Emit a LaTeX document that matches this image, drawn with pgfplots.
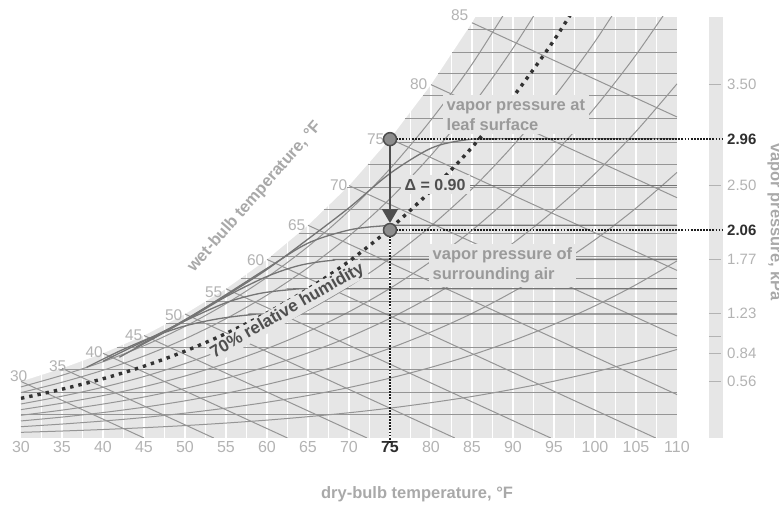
\documentclass[border=0pt]{standalone}
\usepackage{fontspec}
\setmainfont{Liberation Sans}
\usepackage{pgfplots}
\pgfplotsset{compat=1.18}
\usetikzlibrary{arrows.meta}
\definecolor{bggray}{HTML}{E6E6E6}
\definecolor{linegray}{HTML}{959595}
\definecolor{darkline}{HTML}{747474}
\definecolor{tickgray}{HTML}{B3B3B3}
\definecolor{labgray}{HTML}{A9A9A9}
\definecolor{annogray}{HTML}{9A9A9A}
\definecolor{darktxt}{HTML}{2E2E2E}
\definecolor{deltatxt}{HTML}{4F4F4F}
\definecolor{markfill}{HTML}{8C8C8C}
\definecolor{markdraw}{HTML}{4D4D4D}
\definecolor{dotcol}{HTML}{333333}
\pgfplotsset{
  hl/.style={linegray, line width=1pt, forget plot},
  dl/.style={darkline, line width=1.3pt, smooth, forget plot},
  rh/.style={linegray, line width=1pt, smooth, forget plot},
  wb/.style={linegray, line width=1pt, forget plot},
  base/.style={scale only axis, width=656pt, height=421pt, at={(21pt,67pt)}, anchor=south west,
    xmin=30, xmax=110, ymin=0, ymax=4.17},
}
\begin{document}
\begin{tikzpicture}
\useasboundingbox (0pt,0pt) rectangle (779pt,505pt);
\begin{axis}[base,
  axis line style={draw=none}, major tick length=0pt, ytick=\empty,
  xtick={30,35,...,110},
  xticklabels={30,35,40,45,50,55,60,65,70,{\textcolor{darktxt}{\textbf{75}}},80,85,90,95,100,105,110},
  tick label style={font=\fontsize{16}{16}\selectfont, text=tickgray},
  /pgf/number format/assume math mode=true]
\fill[bggray] (axis cs:30,0) rectangle (axis cs:110,4.17);
\pgfplotsinvokeforeach{32.5,35,...,107.5}{\draw[white, line width=1.4pt] (axis cs:#1,0) -- (axis cs:#1,4.17);}
% region above the saturation curve
\addplot[fill=white, draw=none, forget plot] coordinates {(30,0.56)(35,0.69)(40,0.839)(45,1.015)(50,1.228)(55,1.478)(60,1.769)(65,2.107)(70,2.5)(75,2.963)(80,3.5)(85,4.113)(85.4,4.17)(85.4,4.6)(29,4.6)(29,0.56)} -- cycle;
% constant vapor pressure lines
\addplot[hl] coordinates {(30,0.23)(110,0.23)};
\addplot[hl] coordinates {(30,0.455)(110,0.455)};
\addplot[hl] coordinates {(34.7,0.68)(110,0.68)};
\addplot[hl] coordinates {(41.7,0.90)(110,0.90)};
\addplot[hl] coordinates {(47.7,1.13)(110,1.13)};
\addplot[hl] coordinates {(52.5,1.355)(110,1.355)};
\addplot[hl] coordinates {(56.8,1.58)(110,1.58)};
\addplot[hl] coordinates {(60.5,1.80)(110,1.80)};
\addplot[hl] coordinates {(63.9,2.03)(110,2.03)};
\addplot[hl] coordinates {(66.9,2.26)(110,2.26)};
\addplot[hl] coordinates {(69.7,2.48)(110,2.48)};
\addplot[hl] coordinates {(72.3,2.71)(110,2.71)};
\addplot[hl] coordinates {(74.6,2.93)(110,2.93)};
\addplot[hl] coordinates {(76.8,3.16)(110,3.16)};
\addplot[hl] coordinates {(79.0,3.39)(110,3.39)};
\addplot[hl] coordinates {(80.9,3.61)(110,3.61)};
\addplot[hl] coordinates {(82.6,3.82)(110,3.82)};
\addplot[hl] coordinates {(84.5,4.05)(110,4.05)};
% relative humidity curves
\addplot[rh] coordinates {(30,0.056)(35,0.069)(40,0.084)(45,0.102)(50,0.123)(55,0.148)(60,0.177)(65,0.211)(70,0.250)(75,0.296)(80,0.350)(85,0.411)(90,0.483)(95,0.563)(100,0.655)(105,0.759)(110,0.877)};
\addplot[rh] coordinates {(30,0.112)(35,0.138)(40,0.168)(45,0.203)(50,0.246)(55,0.296)(60,0.354)(65,0.421)(70,0.500)(75,0.593)(80,0.700)(85,0.823)(90,0.965)(95,1.126)(100,1.309)(105,1.518)(110,1.754)};
\addplot[rh] coordinates {(30,0.169)(35,0.207)(40,0.252)(45,0.305)(50,0.368)(55,0.443)(60,0.531)(65,0.632)(70,0.750)(75,0.889)(80,1.050)(85,1.234)(90,1.448)(95,1.689)(100,1.964)(105,2.277)(110,2.631)};
\addplot[rh] coordinates {(30,0.225)(35,0.276)(40,0.336)(45,0.406)(50,0.491)(55,0.591)(60,0.708)(65,0.843)(70,1.000)(75,1.185)(80,1.400)(85,1.645)(90,1.930)(95,2.252)(100,2.618)(105,3.036)(110,3.508)};
\addplot[rh] coordinates {(30,0.281)(35,0.345)(40,0.420)(45,0.508)(50,0.614)(55,0.739)(60,0.885)(65,1.054)(70,1.250)(75,1.482)(80,1.750)(85,2.057)(90,2.413)(95,2.815)(100,3.273)(105,3.795)(110,4.385)};
\addplot[rh] coordinates {(30,0.337)(35,0.414)(40,0.503)(45,0.609)(50,0.737)(55,0.887)(60,1.061)(65,1.264)(70,1.500)(75,1.778)(80,2.100)(85,2.468)(90,2.896)(95,3.377)(100,3.927)(105,4.554)};
\addplot[rh] coordinates {(30,0.450)(35,0.552)(40,0.671)(45,0.812)(50,0.982)(55,1.182)(60,1.415)(65,1.686)(70,2.000)(75,2.370)(80,2.800)(85,3.290)(90,3.861)(95,4.503)};
\addplot[rh] coordinates {(30,0.506)(35,0.621)(40,0.755)(45,0.914)(50,1.105)(55,1.330)(60,1.592)(65,1.896)(70,2.250)(75,2.667)(80,3.150)(85,3.702)(90,4.343)};
% wet-bulb lines
\addplot[wb] coordinates {(30,0.56)(45,0)};
\addplot[wb] coordinates {(35,0.69)(53.5,0)};
\addplot[wb] coordinates {(40,0.839)(62.5,0)};
\addplot[wb] coordinates {(45,1.015)(72.2,0)};
\addplot[wb] coordinates {(50,1.228)(82.9,0)};
\addplot[wb] coordinates {(55,1.478)(94.6,0)};
\addplot[wb] coordinates {(60,1.769)(107.4,0)};
\addplot[wb] coordinates {(65,2.107)(110,0.43)};
\addplot[wb] coordinates {(70,2.50)(110,1.01)};
\addplot[wb] coordinates {(75,2.963)(110,1.66)};
\addplot[wb] coordinates {(80,3.50)(110,2.38)};
\addplot[wb] coordinates {(85,4.113)(110,3.18)};
% dew point lines (darker), curving in from the saturation side
\addplot[dl] coordinates {(38,0.70)(42,0.86)(46,1.00)(50,1.11)(54,1.18)(58,1.22)(62,1.228)(110,1.228)};
\addplot[dl] coordinates {(40,0.76)(45,0.96)(50,1.16)(55,1.34)(59,1.43)(63,1.47)(67,1.478)(110,1.478)};
\addplot[dl] coordinates {(42,0.80)(50,1.16)(55,1.40)(60,1.60)(64,1.71)(68,1.76)(72,1.769)(110,1.769)};
\addplot[dl] coordinates {(44,0.90)(50,1.17)(55,1.42)(60,1.68)(65,1.93)(70,2.06)(74,2.10)(78,2.107)(110,2.107)};
\addplot[dl] coordinates {(84,2.50)(110,2.50)};
\addplot[dl] coordinates {(46,0.98)(50,1.17)(55,1.41)(60,1.67)(65,1.97)(70,2.28)(75,2.62)(80,2.87)(84,2.95)(88,2.963)(110,2.963)};
% 70% relative humidity
\addplot[dotcol, line width=3.4pt, dash pattern=on 3.4pt off 5pt, smooth] coordinates {(30,0.393)(35,0.483)(40,0.587)(45,0.711)(50,0.860)(55,1.035)(60,1.238)(65,1.475)(70,1.750)(75,2.074)(80,2.450)(85,2.879)(90,3.378)(95,3.940)(100,4.582)};
\end{axis}
\begin{axis}[base, hide axis, clip=false]
% right scale bar
\fill[bggray] (axis cs:113.9,0) rectangle (axis cs:115.6,4.17);
\pgfplotsinvokeforeach{3.50,2.50,1.77,1.23,1.01,0.84,0.56}{\draw[tickgray, line width=1pt] (axis cs:113.9,#1) -- (axis cs:115.35,#1);}
\pgfplotsinvokeforeach{3.50,2.50,1.77,1.23,0.84,0.56}{\node[anchor=west, inner sep=0pt, text=tickgray, font=\fontsize{15}{15}\selectfont] at (axis cs:116.1,#1) {#1};}
% wet-bulb labels
\node[anchor=east, text=tickgray, inner sep=0pt, font=\fontsize{15.5}{15.5}\selectfont, xshift=6.5pt, yshift=5.4pt] at (axis cs:30,0.56) {30};
\node[anchor=east, text=tickgray, inner sep=0pt, font=\fontsize{15.5}{15.5}\selectfont, xshift=4.5pt, yshift=2pt] at (axis cs:35,0.69) {35};
\node[anchor=east, text=tickgray, inner sep=0pt, font=\fontsize{15.5}{15.5}\selectfont, xshift=0pt, yshift=1pt] at (axis cs:40,0.839) {40};
\node[anchor=east, text=tickgray, inner sep=0pt, font=\fontsize{15.5}{15.5}\selectfont, xshift=-1.5pt] at (axis cs:45,1.015) {45};
\node[anchor=east, text=tickgray, inner sep=0pt, font=\fontsize{15.5}{15.5}\selectfont, xshift=-2.5pt, yshift=-1pt] at (axis cs:50,1.228) {50};
\node[anchor=east, text=tickgray, inner sep=0pt, font=\fontsize{15.5}{15.5}\selectfont, xshift=-3.5pt, yshift=-3pt] at (axis cs:55,1.478) {55};
\node[anchor=east, text=tickgray, inner sep=0pt, font=\fontsize{15.5}{15.5}\selectfont, xshift=-2.5pt, yshift=-1pt] at (axis cs:60,1.769) {60};
\node[anchor=east, text=tickgray, inner sep=0pt, font=\fontsize{15.5}{15.5}\selectfont, xshift=-2.5pt] at (axis cs:65,2.107) {65};
\node[anchor=east, text=tickgray, inner sep=0pt, font=\fontsize{15.5}{15.5}\selectfont, xshift=-1.5pt] at (axis cs:70,2.50) {70};
\node[anchor=east, text=tickgray, inner sep=0pt, font=\fontsize{15.5}{15.5}\selectfont, xshift=-5.5pt] at (axis cs:75,2.963) {75};
\node[anchor=east, text=tickgray, inner sep=0pt, font=\fontsize{15.5}{15.5}\selectfont, xshift=-3.5pt] at (axis cs:80,3.50) {80};
\node[anchor=east, text=tickgray, inner sep=0pt, font=\fontsize{15.5}{15.5}\selectfont, xshift=-3.5pt, yshift=7.6pt] at (axis cs:85,4.113) {85};
% annotations
\node[fill=bggray, inner sep=4pt, text=annogray, align=left, anchor=west, font=\fontsize{16.5}{20}\selectfont\bfseries] at (axis cs:81.4,3.20) {vapor pressure at\\leaf surface};
\node[fill=bggray, inner sep=4pt, text=deltatxt, anchor=center, font=\fontsize{16}{16}\selectfont\bfseries] at (axis cs:80.5,2.51) {Δ = 0.90};
\node[fill=bggray, inner sep=4pt, text=annogray, align=left, anchor=west, font=\fontsize{16.5}{20}\selectfont\bfseries] at (axis cs:79.7,1.71) {vapor pressure of\\surrounding air};
\node[fill=bggray, inner sep=1.5pt, text=deltatxt, rotate=30, font=\fontsize{17}{17}\selectfont\bfseries] at (axis cs:62.5,1.257) {70\% relative humidity};
\node[text=labgray, rotate=48.7, font=\fontsize{16.5}{16.5}\selectfont\bfseries] at (axis cs:58.5,2.386) {wet-bulb temperature, °F};
\node[text=labgray, font=\fontsize{16.5}{16.5}\selectfont\bfseries] at (axis cs:78.3,-0.554) {dry-bulb temperature, °F};
\node[text=labgray, rotate=-90, anchor=base, font=\fontsize{16.5}{16.5}\selectfont\bfseries] at (axis cs:121.46,2.14) {vapor pressure, kPa};
% leaf and air points
\addplot[black!88, line width=1.8pt, dash pattern=on 1.8pt off 1.3pt] coordinates {(75,2.96)(115.5,2.96)};
\addplot[black!88, line width=1.8pt, dash pattern=on 1.8pt off 1.3pt] coordinates {(75,2.06)(115.5,2.06)};
\addplot[black!88, line width=1.8pt, dash pattern=on 1.8pt off 1.3pt] coordinates {(75,2.06)(75,-0.05)};
\node[anchor=west, inner sep=0pt, text=darktxt, font=\fontsize{15}{15}\selectfont\bfseries] at (axis cs:116.1,2.96) {2.96};
\node[anchor=west, inner sep=0pt, text=darktxt, font=\fontsize{15}{15}\selectfont\bfseries] at (axis cs:116.1,2.06) {2.06};
\draw[markdraw, line width=1.6pt, shorten <=6pt, shorten >=7pt, -{Triangle[width=16pt,length=14pt]}] (axis cs:75,2.96) -- (axis cs:75,2.06);
\addplot[only marks, mark=*, mark size=6.5pt, mark options={fill=markfill, draw=markdraw, line width=1.5pt}] coordinates {(75,2.96)(75,2.06)};
\end{axis}
\end{tikzpicture}
\end{document}
